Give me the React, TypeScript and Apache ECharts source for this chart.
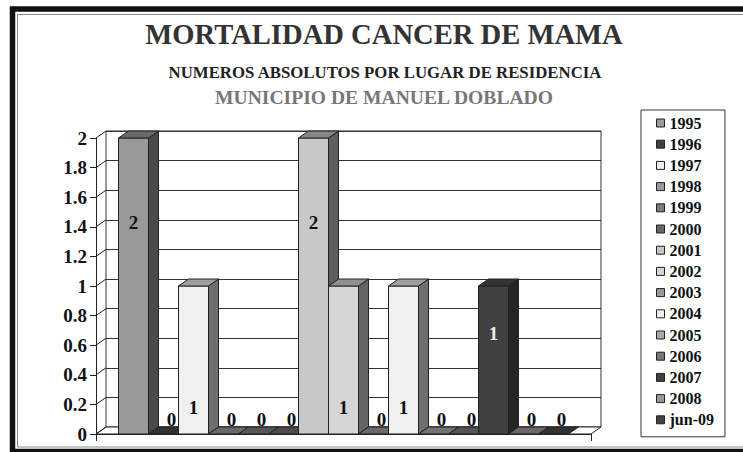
import React, { useEffect, useRef } from 'react';
import * as echarts from 'echarts';

const YEARS = ['1995', '1996', '1997', '1998', '1999', '2000', '2001', '2002', '2003', '2004', '2005', '2006', '2007', '2008', 'jun-09'];
const DEATHS = [2, 0, 1, 0, 0, 0, 2, 1, 0, 1, 0, 0, 1, 0, 0];
const Y_TICKS = [0, 0.2, 0.4, 0.6, 0.8, 1, 1.2, 1.4, 1.6, 1.8, 2];
const TITLE = 'MORTALIDAD CANCER DE MAMA';
const SUBTITLE = 'NUMEROS ABSOLUTOS POR LUGAR DE RESIDENCIA';
const PLACE = 'MUNICIPIO DE MANUEL DOBLADO';

const COLORS = ['#999999', '#404040', '#f0f0f0', '#999999', '#7a7a7a', '#686868', '#c8c8c8', '#d6d6d6', '#999999', '#f0f0f0', '#aaaaaa', '#777777', '#404040', '#999999', '#404040'];
// where each label sits, as a fraction of its bar height (zero bars use a fixed small level)
const LABEL_FRAC = [0.715, 0, 0.18, 0, 0, 0, 0.715, 0.18, 0, 0.18, 0, 0, 0.68, 0, 0];
const LABEL_LIGHT = [false, false, false, false, false, false, false, false, false, false, false, false, true, false, false];

const SERIF = 'Liberation Serif';
const DX = 10;
const DY = -7;
const EDGE = '#222222';

function shade(hex: string, k: number, add: number): string {
  const n = parseInt(hex.slice(1), 16);
  const f = (c: number) => Math.max(0, Math.min(255, Math.round(c * k + add)));
  const r = f((n >> 16) & 255), g = f((n >> 8) & 255), b = f(n & 255);
  return `rgb(${r},${g},${b})`;
}

export default function App() {
  const ref = useRef<HTMLDivElement>(null);

  useEffect(() => {
    if (!ref.current) return;
    const chart = echarts.init(ref.current, undefined, { renderer: 'svg' });

    const frameSeries: any = {
      type: 'custom',
      name: '__frame',
      coordinateSystem: 'cartesian2d',
      xAxisIndex: 0,
      yAxisIndex: 0,
      silent: true,
      data: Y_TICKS.map((v) => [0, v]),
      renderItem: (params: any, api: any) => {
        const cs = params.coordSys;
        const v = api.value(1);
        const y = api.coord([0, v])[1];
        const children: any[] = [];
        if (v === 0) {
          children.push({
            type: 'polygon',
            shape: {
              points: [
                [cs.x, y],
                [cs.x + cs.width, y],
                [cs.x + cs.width + DX, y + DY],
                [cs.x + DX, y + DY],
              ],
            },
            style: { fill: '#ffffff', stroke: EDGE, lineWidth: 1 },
          });
        }
        children.push({
          type: 'line',
          shape: { x1: cs.x, y1: y, x2: cs.x + DX, y2: y + DY },
          style: { stroke: EDGE, lineWidth: 1 },
        });
        return { type: 'group', children };
      },
    };

    const barSeries = YEARS.map((year, i) => ({
      type: 'custom',
      name: year,
      coordinateSystem: 'cartesian2d',
      xAxisIndex: 0,
      yAxisIndex: 0,
      itemStyle: { color: COLORS[i], borderColor: EDGE, borderWidth: 1 },
      data: [[0, DEATHS[i]]],
      renderItem: (params: any, api: any) => {
        const cs = params.coordSys;
        const v = api.value(1);
        const barW = cs.width / 16.5;
        const x0 = cs.x + (cs.width - YEARS.length * barW) / 2 + i * barW;
        const x1 = x0 + barW;
        const y0 = api.coord([0, 0])[1];
        const yt = api.coord([0, v])[1];
        const front = COLORS[i];
        const top = shade(front, 0.62, 10);
        const side = shade(front, 0.42, 10);
        const children: any[] = [];
        if (v > 0) {
          children.push({
            type: 'polygon',
            shape: { points: [[x1, yt], [x1 + DX, yt + DY], [x1 + DX, y0 + DY], [x1, y0]] },
            style: { fill: side, stroke: EDGE, lineWidth: 1 },
          });
          children.push({
            type: 'rect',
            shape: { x: x0, y: yt, width: barW, height: y0 - yt },
            style: { fill: front, stroke: EDGE, lineWidth: 1 },
          });
        }
        children.push({
          type: 'polygon',
          shape: { points: [[x0, yt], [x0 + DX, yt + DY], [x1 + DX, yt + DY], [x1, yt]] },
          style: { fill: top, stroke: EDGE, lineWidth: 1 },
        });
        const level = v > 0 ? v * LABEL_FRAC[i] : 0.095;
        const ly = api.coord([0, level])[1];
        const lx = v > 0 ? (x0 + x1) / 2 : (x0 + x1) / 2 + 8;
        children.push({
          type: 'text',
          x: lx,
          y: ly,
          style: {
            text: String(v),
            fill: LABEL_LIGHT[i] ? '#eeeeee' : '#111111',
            fontFamily: SERIF,
            fontWeight: 'bold',
            fontSize: 19,
            align: 'center',
            verticalAlign: 'middle',
            textAlign: 'center',
            textVerticalAlign: 'middle',
          },
        });
        return { type: 'group', children };
      },
    }));

    const txt = (text: string, x: number, y: number, size: number, color: string) => ({
      type: 'text',
      x,
      y,
      silent: true,
      style: {
        text,
        fill: color,
        fontFamily: SERIF,
        fontWeight: 'bold',
        fontSize: size,
        align: 'center',
        verticalAlign: 'middle',
        textAlign: 'center',
        textVerticalAlign: 'middle',
      },
    });

    const option: any = {
      animation: false,
      backgroundColor: '#ffffff',
      textStyle: { fontFamily: SERIF },
      grid: [
        { left: 96, top: 138, width: 495, height: 296, show: false },
        { left: 106, top: 131, width: 495, height: 296, show: true, borderColor: '#333333', borderWidth: 1, backgroundColor: '#ffffff' },
      ],
      xAxis: [
        {
          gridIndex: 0,
          type: 'category',
          data: [''],
          boundaryGap: true,
          axisLine: { show: true, lineStyle: { color: EDGE, width: 1 } },
          axisTick: { show: true, length: 7, interval: 0, lineStyle: { color: EDGE } },
          axisLabel: { show: false },
          splitLine: { show: false },
        },
        {
          gridIndex: 1,
          type: 'category',
          data: [''],
          show: false,
        },
      ],
      yAxis: [
        {
          gridIndex: 0,
          type: 'value',
          min: 0,
          max: 2,
          interval: 0.2,
          axisLine: { show: true, lineStyle: { color: EDGE, width: 1 } },
          axisTick: { show: true, length: 6, lineStyle: { color: EDGE } },
          axisLabel: { margin: 9, color: '#111111', fontFamily: SERIF, fontWeight: 'bold', fontSize: 19 },
          splitLine: { show: false },
        },
        {
          gridIndex: 1,
          type: 'value',
          min: 0,
          max: 2,
          interval: 0.2,
          axisLine: { show: false },
          axisTick: { show: false },
          axisLabel: { show: false },
          splitLine: { show: true, lineStyle: { color: '#333333', width: 1 } },
        },
      ],
      legend: {
        orient: 'vertical',
        left: 641,
        top: 110,
        padding: [5, 11, 9, 15],
        itemWidth: 8,
        itemHeight: 8,
        itemGap: 5.2,
        icon: 'rect',
        borderColor: '#333333',
        borderWidth: 1,
        selectedMode: false,
        itemStyle: { borderColor: EDGE, borderWidth: 1 },
        textStyle: { fontFamily: SERIF, fontWeight: 'bold', fontSize: 16, lineHeight: 16, color: '#111111' },
        data: YEARS,
      },
      graphic: [
        { type: 'rect', silent: true, shape: { x: 12.5, y: 9, width: 780, height: 442.5 }, style: { fill: 'none', stroke: '#111111', lineWidth: 5.5 } },
        { type: 'rect', silent: true, shape: { x: 17.5, y: 14.5, width: 780, height: 432.5 }, style: { fill: 'none', stroke: '#888888', lineWidth: 1 } },
        txt(TITLE, 384, 34, 28.6, '#333333'),
        txt(SUBTITLE, 385, 72, 16.8, '#222222'),
        txt(PLACE, 384, 97, 19.6, '#777777'),
      ],
      series: [frameSeries, ...barSeries],
    };

    chart.setOption(option);
    return () => chart.dispose();
  }, []);

  return (
    <div
      ref={ref}
      style={{ position: 'fixed', left: 0, top: 0, width: 743, height: 452, background: '#ffffff' }}
    />
  );
}
